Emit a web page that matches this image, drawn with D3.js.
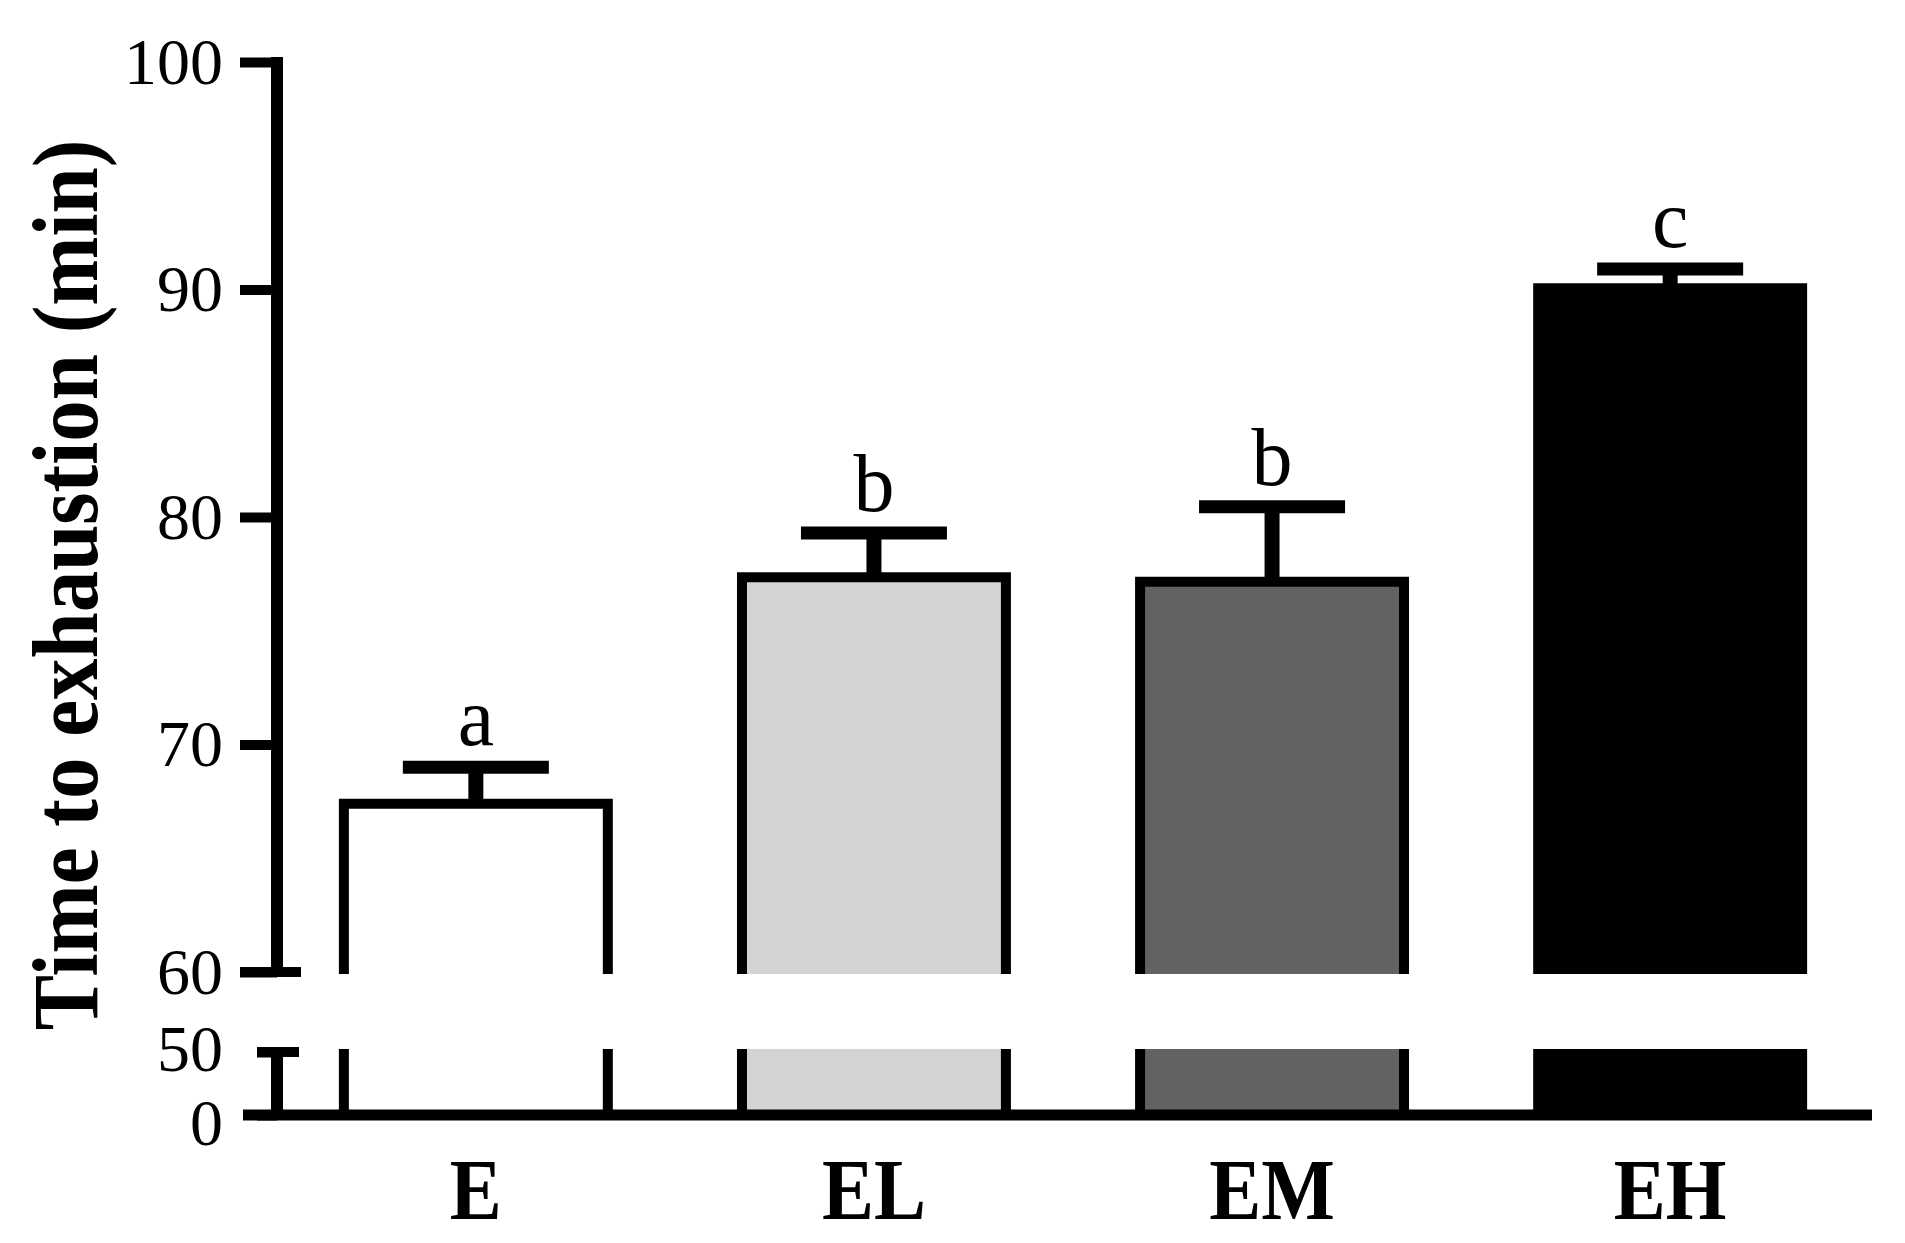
<!DOCTYPE html>
<meta charset="utf-8">
<body style="margin:0;background:#fff">
<script src="https://d3js.org/d3.v7.min.js"></script>
<script>

// data
var categories = ["E", "EL", "EM", "EH"];
var means = [67.4, 77.35, 77.15, 90.05];
var errors = [1.6, 1.95, 3.3, 0.85];
var letters = ["a", "b", "b", "c"];
var upperTicks = [60, 70, 80, 90, 100];
var lowerTicks = [0, 50];

var width = 1905, height = 1243;
var serif = "'Liberation Serif', 'Times New Roman', serif";

var svg = d3.select("body").append("svg")
    .attr("width", width)
    .attr("height", height);

// x band scale, starts at the y axis
var x = d3.scaleBand()
    .domain(categories)
    .range([277, 1869])
    .paddingInner(0.337)
    .paddingOuter(0.168);

// broken y axis: two scales
var yTop = d3.scaleLinear().domain([60, 100]).range([972, 62]);
var yBot = d3.scaleLinear().domain([0, 50]).range([1115, 1052]);

var fill = d3.scaleOrdinal()
    .domain(categories)
    .range(["#ffffff", "#d3d3d3", "#626262", "#000000"]);

var data = categories.map(function(c, i) {
  return {cat: c, mean: means[i], err: errors[i], letter: letters[i]};
});

var bw = x.bandwidth();
var barW = 10;

// upper part of the bars
var up = svg.append("g");
up.selectAll("rect").data(data).enter().append("rect")
    .attr("x", function(d) { return x(d.cat); })
    .attr("y", function(d) { return yTop(d.mean); })
    .attr("width", bw)
    .attr("height", function(d) { return yTop(60) + 2 - yTop(d.mean); })
    .attr("fill", function(d) { return fill(d.cat); });
up.selectAll("path").data(data).enter().append("path")
    .attr("d", function(d) {
      var x0 = x(d.cat), x1 = x0 + bw;
      return "M" + x0 + "," + (yTop(60) + 2) + "V" + yTop(d.mean) + "H" + x1 + "V" + (yTop(60) + 2);
    })
    .attr("fill", "none")
    .attr("stroke", "#000")
    .attr("stroke-width", barW);

// lower part of the bars
var low = svg.append("g");
low.selectAll("rect").data(data).enter().append("rect")
    .attr("x", function(d) { return x(d.cat); })
    .attr("y", yBot(50) - 3)
    .attr("width", bw)
    .attr("height", yBot(0) - yBot(50) + 3)
    .attr("fill", function(d) { return fill(d.cat); });
low.selectAll("path").data(data).enter().append("path")
    .attr("d", function(d) {
      var x0 = x(d.cat), x1 = x0 + bw;
      return "M" + x0 + "," + (yBot(50) - 3) + "V" + yBot(0) +
             "M" + x1 + "," + (yBot(50) - 3) + "V" + yBot(0);
    })
    .attr("fill", "none")
    .attr("stroke", "#000")
    .attr("stroke-width", barW);

// error bars (upper only)
var eb = svg.append("g").attr("stroke", "#000");
eb.selectAll(".stem").data(data).enter().append("line")
    .attr("x1", function(d) { return x(d.cat) + bw / 2; })
    .attr("x2", function(d) { return x(d.cat) + bw / 2; })
    .attr("y1", function(d) { return yTop(d.mean); })
    .attr("y2", function(d) { return yTop(d.mean + d.err); })
    .attr("stroke-width", 15);
eb.selectAll(".cap").data(data).enter().append("line")
    .attr("x1", function(d) { return x(d.cat) + bw / 2 - 73; })
    .attr("x2", function(d) { return x(d.cat) + bw / 2 + 73; })
    .attr("y1", function(d) { return yTop(d.mean + d.err); })
    .attr("y2", function(d) { return yTop(d.mean + d.err); })
    .attr("stroke-width", 13);

// significance letters
svg.append("g").selectAll("text").data(data).enter().append("text")
    .attr("x", function(d) { return x(d.cat) + bw / 2; })
    .attr("y", function(d) { return yTop(d.mean + d.err) - 22; })
    .attr("text-anchor", "middle")
    .style("font-family", serif)
    .style("font-size", "82px")
    .text(function(d) { return d.letter; });

// baseline (x axis)
svg.append("line")
    .attr("x1", 243).attr("x2", 1872)
    .attr("y1", yBot(0)).attr("y2", yBot(0))
    .attr("stroke", "#000").attr("stroke-width", 11);

// category labels
svg.append("g").selectAll("text").data(categories).enter().append("text")
    .attr("transform", function(d) { return "translate(" + (x(d) + bw / 2) + ",1219) scale(1,1.12)"; })
    .attr("text-anchor", "middle")
    .style("font-family", serif)
    .style("font-weight", "bold")
    .style("font-size", "78px")
    .text(function(d) { return d; });

// y axis, upper part
var axTop = svg.append("g")
    .attr("transform", "translate(277,0)")
    .call(d3.axisLeft(yTop).tickValues(upperTicks).tickSize(37).tickPadding(17).tickSizeOuter(0));
// y axis, lower part
var axBot = svg.append("g")
    .attr("transform", "translate(277,0)")
    .call(d3.axisLeft(yBot).tickValues(lowerTicks).tickSize(20).tickPadding(34).tickSizeOuter(0));

[axTop, axBot].forEach(function(ax) {
  ax.select(".domain").remove();
  ax.selectAll(".tick line").attr("stroke", "#000").attr("stroke-width", 10);
  ax.selectAll(".tick text")
      .style("font-family", serif)
      .style("font-size", "66px")
      .attr("fill", "#000");
});
// the two lower labels sit very close, nudge them apart a little
axBot.selectAll(".tick").filter(function(d) { return d === 0; }).select("text").attr("dy", "0.45em");
axBot.selectAll(".tick").filter(function(d) { return d === 50; }).select("text").attr("dy", "0.28em");

// axis spines
svg.append("line")
    .attr("x1", 277).attr("x2", 277)
    .attr("y1", yTop(100) - 5).attr("y2", yTop(60) + 5)
    .attr("stroke", "#000").attr("stroke-width", 12);
svg.append("line")
    .attr("x1", 277).attr("x2", 277)
    .attr("y1", yBot(50) - 5).attr("y2", yBot(0))
    .attr("stroke", "#000").attr("stroke-width", 12);
// short ends at the break
svg.append("line")
    .attr("x1", 240).attr("x2", 301)
    .attr("y1", yTop(60)).attr("y2", yTop(60))
    .attr("stroke", "#000").attr("stroke-width", 10);
svg.append("line")
    .attr("x1", 257).attr("x2", 299)
    .attr("y1", yBot(50)).attr("y2", yBot(50))
    .attr("stroke", "#000").attr("stroke-width", 10);

// y axis title
svg.append("text")
    .attr("transform", "translate(97,585) rotate(-90) scale(1,1.12)")
    .attr("text-anchor", "middle")
    .style("font-family", serif)
    .style("font-weight", "bold")
    .style("font-size", "83px")
    .text("Time to exhaustion (min)");

</script>
</body>
</html>
